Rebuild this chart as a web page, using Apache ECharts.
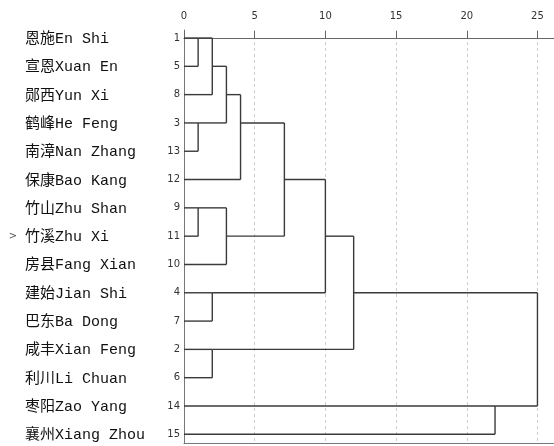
<!DOCTYPE html>
<html>
<head>
<meta charset="utf-8">
<script src="https://cdn.jsdelivr.net/npm/echarts@6/dist/echarts.min.js"></script>
<style>
  html, body { margin: 0; padding: 0; background: #fff; }
  #main { width: 554px; height: 446px; }
</style>
</head>
<body>
<div id="main"></div>
<script>
// 叶节点顺序（个案号）及名称
const leafIds = [1, 5, 8, 3, 13, 12, 9, 11, 10, 4, 7, 2, 6, 14, 15];
const leafNames = ['恩施En Shi', '宣恩Xuan En', '郧西Yun Xi', '鹤峰He Feng', '南漳Nan Zhang',
  '保康Bao Kang', '竹山Zhu Shan', '竹溪Zhu Xi', '房县Fang Xian', '建始Jian Shi',
  '巴东Ba Dong', '咸丰Xian Feng', '利川Li Chuan', '枣阳Zao Yang', '襄州Xiang Zhou'];
// 聚类步骤：A 与 B 在 mergeDist 处合并，合并后沿用 A 的编号
const mergeA = [1, 3, 9, 1, 4, 2, 1, 9, 1, 1, 1, 1, 14, 1];
const mergeB = [5, 13, 11, 8, 7, 6, 3, 10, 12, 9, 4, 2, 15, 14];
const mergeDist = [1, 1, 1, 2, 2, 2, 3, 3, 4, 7.1, 10, 12, 22, 25];
const xTicks = [0, 5, 10, 15, 20, 25];
const markedLeaf = 11;

// 按 SPSS 的画法算出树状图的线段
const node = {};
leafIds.forEach((id, i) => { node[id] = { row: i, x: 0 }; });
const segs = [];
mergeA.forEach((a, i) => {
  const b = mergeB[i], d = mergeDist[i];
  const na = node[a], nb = node[b];
  segs.push([na.x, na.row, d, na.row]);
  segs.push([nb.x, nb.row, d, nb.row]);
  segs.push([d, Math.min(na.row, nb.row), d, Math.max(na.row, nb.row)]);
  node[a] = { row: Math.floor((na.row + nb.row) / 2), x: d };
});

let myChart = echarts.init(document.getElementById('main'));

let option = {
  animation: false,
  grid: { left: 184, right: 0, top: 30, bottom: 3 },
  xAxis: [
    {
      type: 'value',
      position: 'top',
      min: 0,
      max: 26.17,
      interval: 5,
      axisLine: { show: true, lineStyle: { color: '#666', width: 1.2 } },
      axisTick: { show: true, length: 7, lineStyle: { color: '#666' } },
      axisLabel: {
        margin: 9,
        fontSize: 10,
        color: '#333',
        fontFamily: 'DejaVu Sans',
        showMaxLabel: false,
        formatter: v => (xTicks.indexOf(v) >= 0 ? String(v) : '')
      },
      splitLine: { show: true, lineStyle: { color: '#ccc', type: [3, 3] } }
    },
    {
      // 底边线
      type: 'value',
      position: 'bottom',
      min: 0,
      max: 26.17,
      axisLine: { show: true, lineStyle: { color: '#777' } },
      axisTick: { show: false },
      axisLabel: { show: false },
      splitLine: { show: false }
    }
  ],
  yAxis: {
    type: 'value',
    inverse: true,
    min: -0.283,
    max: 14.307,
    axisLine: { show: true, lineStyle: { color: '#777' } },
    axisTick: { show: false },
    axisLabel: { show: false },
    splitLine: { show: false }
  },
  series: [
    {
      type: 'custom',
      data: segs,
      encode: { x: [0, 2], y: [1, 3] },
      renderItem: (params, api) => {
        const p1 = api.coord([api.value(0), api.value(1)]);
        const p2 = api.coord([api.value(2), api.value(3)]);
        return {
          type: 'line',
          shape: { x1: p1[0], y1: p1[1], x2: p2[0], y2: p2[1] },
          style: { stroke: '#3a3a3a', lineWidth: 1.4 }
        };
      }
    },
    {
      type: 'custom',
      data: leafIds.map((id, i) => [0, i, id]),
      renderItem: (params, api) => {
        const i = params.dataIndex;
        const p = api.coord([0, api.value(1)]);
        const children = [
          {
            type: 'text',
            style: {
              text: String(leafIds[i]), x: p[0] - 4, y: p[1],
              align: 'right', verticalAlign: 'middle',
              fontSize: 10, fontFamily: 'DejaVu Sans', fill: '#333'
            }
          },
          {
            type: 'text',
            style: {
              text: leafNames[i], x: 25, y: p[1] + 1,
              align: 'left', verticalAlign: 'middle',
              fontSize: 15, fontFamily: "'Liberation Mono', 'Noto Sans CJK SC'", fill: '#111'
            }
          }
        ];
        if (leafIds[i] === markedLeaf) {
          children.push({
            type: 'text',
            style: {
              text: '>', x: 13, y: p[1],
              align: 'center', verticalAlign: 'middle',
              fontSize: 10, fontFamily: 'DejaVu Sans', fill: '#555'
            }
          });
        }
        return { type: 'group', children: children };
      }
    }
  ]
};

myChart.setOption(option);
</script>
</body>
</html>
